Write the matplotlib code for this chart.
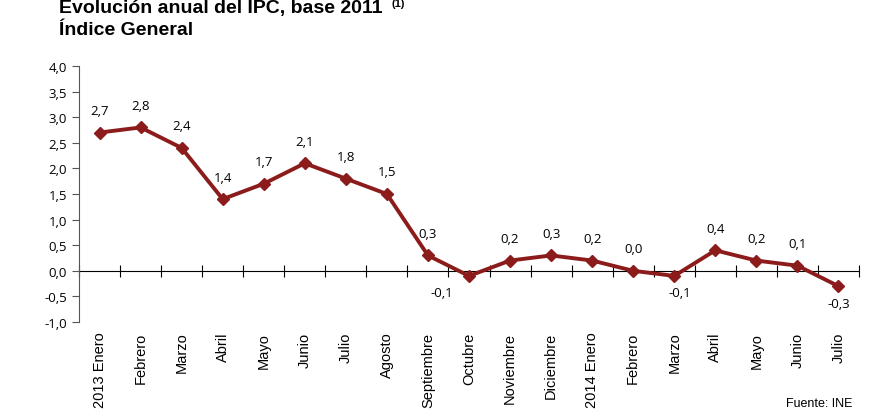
import matplotlib
matplotlib.use('Agg')
from matplotlib import pyplot as plt

# datos del IPC (tasa anual, %)
meses = ['2013 Enero', 'Febrero', 'Marzo', 'Abril', 'Mayo', 'Junio', 'Julio',
         'Agosto', 'Septiembre', 'Octubre', 'Noviembre', 'Diciembre',
         '2014 Enero', 'Febrero', 'Marzo', 'Abril', 'Mayo', 'Junio', 'Julio']
ipc = [2.7, 2.8, 2.4, 1.4, 1.7, 2.1, 1.8, 1.5, 0.3, -0.1, 0.2, 0.3,
       0.2, 0.0, -0.1, 0.4, 0.2, 0.1, -0.3]
yticks = [-1.0, -0.5, 0.0, 0.5, 1.0, 1.5, 2.0, 2.5, 3.0, 3.5, 4.0]

color = '#8c1c1c'
x = list(range(len(meses)))

fig = plt.figure(figsize=(8.75, 4.1), dpi=100)
ax = fig.add_axes([79 / 875, 1 - 323 / 410, 780 / 875, 256 / 410])

ax.plot(x, ipc, color=color, lw=2.8, marker='D', ms=6.5, zorder=3)

# etiquetas de datos
for i, v in enumerate(ipc):
    txt = ('%.1f' % v).replace('.', ',')
    if v < 0:
        dx = -27 if i == 9 else (6 if i == 14 else 0)
        ax.annotate(txt, (i, v), xytext=(dx, -17), textcoords='offset pixels',
                    ha='center', va='center', fontsize=9.5, family='Open Sans')
    else:
        ax.annotate(txt, (i, v), xytext=(0, 22), textcoords='offset pixels',
                    ha='center', va='center', fontsize=9.5, family='Open Sans')

ax.set_xlim(-0.5, len(meses) - 0.5)
ax.set_ylim(-1.0, 4.0)
ax.set_yticks(yticks)
ax.set_yticklabels([('%.1f' % t).replace('.', ',') for t in yticks],
                   fontsize=9.5, family='Open Sans')
ax.tick_params(axis='y', direction='out', length=5, color='#555555')

ax.set_xticks(x)
ax.set_xticklabels(meses, rotation=90, fontsize=10.5, family='Liberation Sans')
ax.tick_params(axis='x', length=0, pad=7)

for s in ['top', 'right', 'bottom']:
    ax.spines[s].set_visible(False)
ax.spines['left'].set_color('#555555')

# eje en el cero con marcas entre categorias
eje0 = ax.secondary_xaxis(0, transform=ax.transData)
eje0.set_xticks([i - 0.5 for i in range(len(meses) + 1)])
eje0.set_xticklabels([])
eje0.tick_params(direction='inout', length=8, color='black')
eje0.spines['bottom'].set_color('black')

fig.text(59 / 875, 1 - 13 / 410, 'Evolución anual del IPC, base 2011',
         fontsize=14, fontweight='bold', family='Liberation Sans', va='baseline')
fig.text(392 / 875, 1 - 7 / 410, '(1)', fontsize=8, fontweight='bold',
         family='Liberation Sans', va='baseline')
fig.text(59 / 875, 1 - 35 / 410, 'Índice General',
         fontsize=14, fontweight='bold', family='Liberation Sans', va='baseline')
fig.text(852 / 875, 1 - 407 / 410, 'Fuente: INE', fontsize=9,
         family='Liberation Sans', ha='right', va='baseline')

fig.savefig('out.png', dpi=100)
